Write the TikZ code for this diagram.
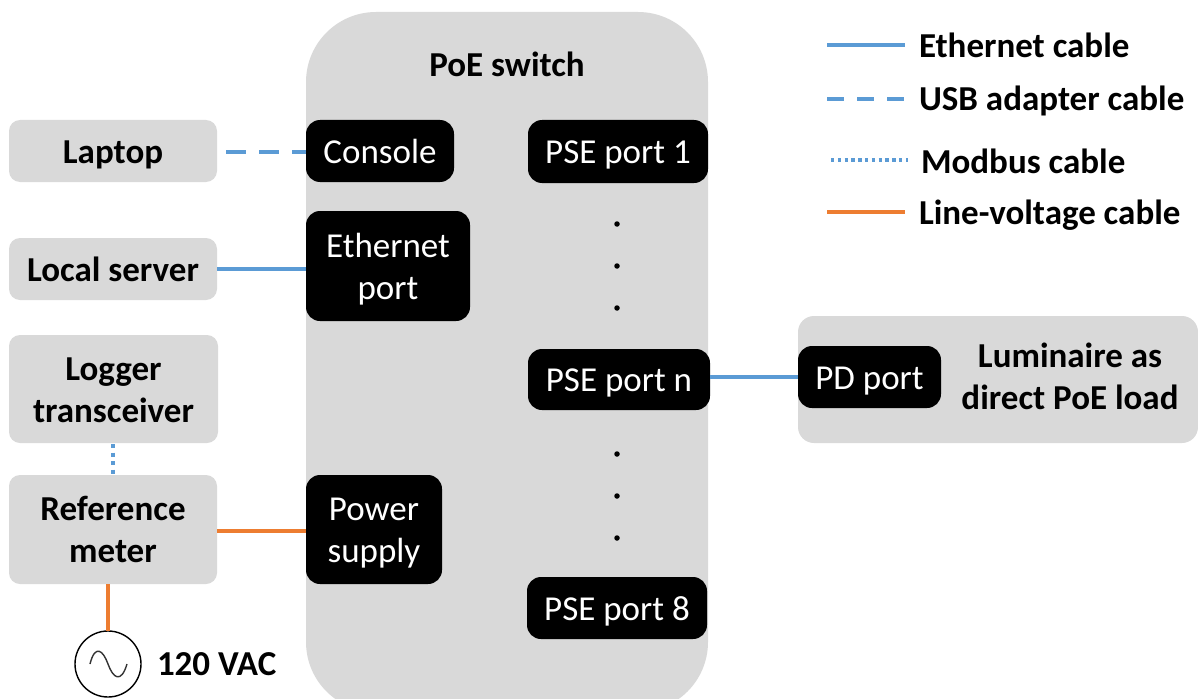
\documentclass[tikz,border=0pt]{standalone}
\usepackage{fontspec}
\setmainfont{Carlito}
\definecolor{boxgrey}{HTML}{D9D9D9}
\definecolor{cblue}{HTML}{5B9BD5}
\definecolor{corange}{HTML}{ED7D31}
\newcommand{\boxat}[6]{% name, x1,y1,x2,y2, text (uses current style)
  \node[minimum width=#4pt-#2pt,minimum height=#5pt-#3pt] (#1) at ({(#2+#4)/2},{(#3+#5)/2}) {\raisebox{-4pt}[\height][\depth]{\begin{tabular}{@{}c@{}}#6\end{tabular}}};}
\tikzset{
  x=1pt,y=-1pt,
  every node/.style={inner sep=0pt,outer sep=0pt,font=\fontsize{35}{42}\selectfont,align=center},
  greybox/.style={fill=boxgrey,rounded corners=11pt,text=black,font=\fontsize{35}{42}\selectfont\bfseries},
  blackbox/.style={fill=black,rounded corners=14pt,text=white,font=\fontsize{35}{42}\selectfont},
  label/.style={text=black,font=\fontsize{35}{42}\selectfont\bfseries,anchor=west},
  ether/.style={draw=cblue,line width=3.6pt},
  usb/.style={draw=cblue,line width=3.6pt,dash pattern=on 20pt off 13pt},
  modbus/.style={draw=cblue,line width=4pt,dash pattern=on 4pt off 4.5pt},
  power/.style={draw=corange,line width=4pt},
  dotmark/.style={fill=black,circle,minimum size=5.5pt},
}
\renewcommand{\arraystretch}{1}
\setlength{\tabcolsep}{0pt}
\begin{document}
\begin{tikzpicture}
\useasboundingbox (0,0) rectangle (1198,698);
% switch body
\begin{scope}
\clip (0,0) rectangle (1198,698);
\node[fill=boxgrey,rounded corners=70pt,minimum width=402pt,minimum height=700pt] (switch) at (507,362) {};
\end{scope}
\node[label,anchor=center] (switchlabel) at (507,64) {PoE switch};
% grey boxes
\begin{scope}[every node/.append style={greybox}]
\boxat{laptop}{9}{120}{217}{182}{Laptop}
\boxat{server}{9}{238}{217}{300}{Local server}
\boxat{logger}{9}{335}{218}{443}{Logger\\transceiver}
\boxat{meter}{9}{475}{217}{584}{Reference\\meter}
\node[fill=boxgrey,rounded corners=16pt,minimum width=400pt,minimum height=127pt] (lum) at (998,379.5) {};
\end{scope}
\node[label,anchor=center] (lumtext) at (1070,376) {Luminaire as\\direct PoE load};
% black boxes
\begin{scope}[every node/.append style={blackbox}]
\boxat{console}{306}{120}{454}{182}{Console}
\boxat{ethport}{306}{211}{470}{321}{Ethernet\\port}
\boxat{pse1}{528}{120}{708}{183}{PSE port 1}
\boxat{psen}{528}{349}{710}{410}{PSE port n}
\boxat{pse8}{527}{577}{707}{639}{PSE port 8}
\boxat{psu}{306}{475}{442}{584}{Power\\supply}
\boxat{pd}{798}{346}{941}{408}{PD port}
\end{scope}
% ellipsis dots
\foreach \n/\yy in {a/224,b/266,c/308,d/454,e/496,f/538}
  \node[dotmark] (dot\n) at (617,\yy) {};
% connectors
\path[usb] (226,152) -- (console.west |- 0,152);
\path[ether] (server.east) -- (ethport.west |- server.east);
\path[ether] (psen.east |- 0,377) -- (pd.west |- 0,377);
\path[power] (meter.east |- 0,530.5) -- (psu.west |- 0,530.5);
\path[modbus] (113,444) -- (113,475);
% source
\node[draw=black,line width=1.4pt,circle,minimum size=66pt,fill=white] (ac) at (108,664) {};
\path[power] (ac.north |- meter.south) -- (ac.north);
\draw[line width=1.4pt,black!80] (90,664) .. controls (95,644) and (103,650) .. (108,664) .. controls (113,678) and (121,684) .. (127,664);
\node[label] (vac) at (157,664) {120 VAC};
% legend
\coordinate (l1a) at (827,45); \coordinate (l1b) at (905,45);
\coordinate (l2a) at (827,99); \coordinate (l2b) at (905,99);
\coordinate (l3a) at (831,160); \coordinate (l3b) at (908,160);
\coordinate (l4a) at (827,212); \coordinate (l4b) at (905,212);
\path[ether] (l1a) -- (l1b);
\path[usb,dash pattern=on 17pt off 13pt] (l2a) -- (l2b);
\path[modbus,line width=3.4pt,dash pattern=on 3.4pt off 3.4pt] (l3a) -- (l3b);
\path[power] (l4a) -- (l4b);
\node[label] (t1) at (919,45) {Ethernet cable};
\node[label] (t2) at (919,101) {USB adapter cable};
\node[label] (t3) at (921,161) {Modbus cable};
\node[label] (t4) at (919,215) {Line-voltage cable};
\end{tikzpicture}
\end{document}
